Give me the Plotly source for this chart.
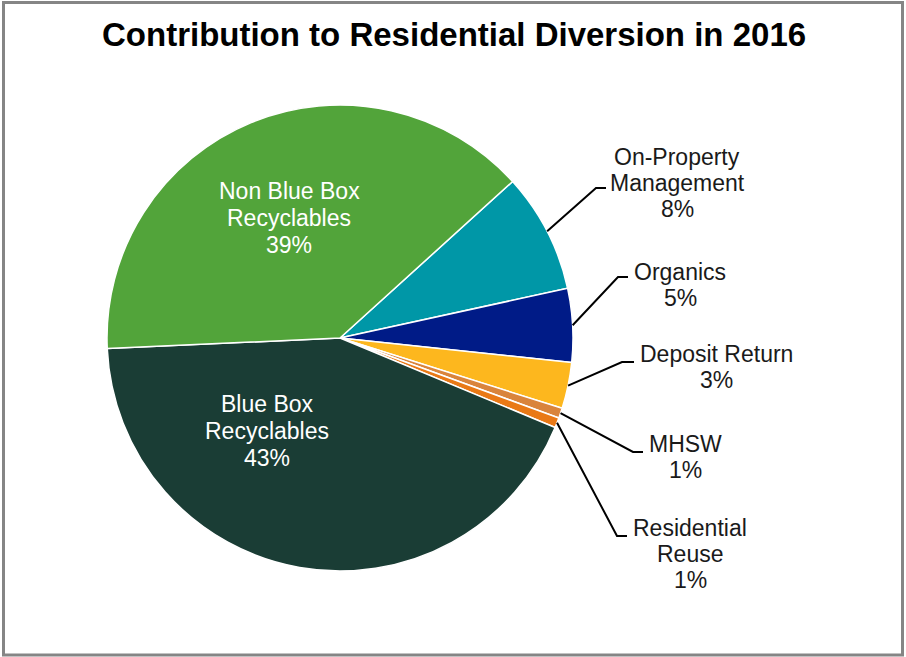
import math
import plotly.graph_objects as go

# ---- data ----
categories = ["On-Property Management", "Organics", "Deposit Return", "MHSW",
              "Residential Reuse", "Blue Box Recyclables", "Non Blue Box Recyclables"]
label_lines = [["On-Property", "Management"], ["Organics"], ["Deposit Return"], ["MHSW"],
               ["Residential", "Reuse"], ["Blue Box", "Recyclables"], ["Non Blue Box", "Recyclables"]]
values = [8.3, 5.1, 3.2, 0.7, 0.7, 43.0, 39.0]
colors = ["#0097A7", "#001B87", "#FDB71E", "#D9843C", "#E97916", "#1A3D35", "#52A43A"]

# ---- layout constants (pixels) ----
W, H = 906, 657
CX, CY, R = 340, 338, 233
ROTATION = 47.8

total = sum(values)
pct = [f"{round(v / total * 100)}%" for v in values]

fig = go.Figure(go.Pie(
    labels=categories, values=values, sort=False, direction="clockwise",
    rotation=ROTATION, textinfo="none", hoverinfo="label+percent",
    marker=dict(colors=colors, line=dict(color="white", width=1.5)),
    domain=dict(x=[(CX - R) / W, (CX + R) / W], y=[1 - (CY + R) / H, 1 - (CY - R) / H]),
    showlegend=False,
))

def px(x):
    return x / W

def py(y):
    return 1 - y / H

# slice mid-angles (clockwise from 12 o'clock)
mids = []
acc = ROTATION
for v in values:
    mids.append(acc + v / total * 360 / 2)
    acc += v / total * 360

FONT = "Liberation Sans, Arial, sans-serif"
annotations = [dict(x=px(454), y=py(34), xref="paper", yref="paper",
                    text="<b>Contribution to Residential Diversion in 2016</b>",
                    showarrow=False, xanchor="center", yanchor="middle",
                    font=dict(family=FONT, size=33, color="#000000"))]
shapes = [dict(type="rect", xref="paper", yref="paper",
               x0=px(3.5), x1=px(902.5), y0=py(655), y1=py(2.5),
               line=dict(color="#858585", width=3))]


def add_label(i, tx, ty, color, spacing):
    lines = label_lines[i] + [pct[i]]
    n = len(lines)
    for k, t in enumerate(lines):
        yy = ty + (k - (n - 1) / 2) * spacing
        annotations.append(dict(x=px(tx), y=py(yy), xref="paper", yref="paper",
                                text=t, showarrow=False, xanchor="center", yanchor="middle",
                                font=dict(family=FONT, size=23, color=color)))


# outside labels: (elbow x, elbow y, line end x, text x, text y)
outside = {
    0: (596, 188, 606, 677, 183),
    1: (618, 277, 628, 680, 285),
    2: (622, 362, 634, 716, 367),
    3: (633, 452, 643, 685, 457),
    4: (617, 536, 627, 690, 554),
}
for i, (ex, ey, lx, tx, ty) in outside.items():
    a = math.radians(mids[i])
    sx = CX + R * math.sin(a)
    sy = CY - R * math.cos(a)
    shapes.append(dict(type="path", xref="paper", yref="paper",
                       path=f"M {px(sx)},{py(sy)} L {px(ex)},{py(ey)} L {px(lx)},{py(ey)}",
                       line=dict(color="#000000", width=2)))
    add_label(i, tx, ty, "#1a1a1a", 26)

# inside labels
inside = {5: (267, 431), 6: (289, 218)}
for i, (tx, ty) in inside.items():
    add_label(i, tx, ty, "#ffffff", 27)

fig.update_layout(
    width=W, height=H, margin=dict(l=0, r=0, t=0, b=0),
    paper_bgcolor="white", plot_bgcolor="white",
    annotations=annotations, shapes=shapes,
)

fig.write_html("out.html")
